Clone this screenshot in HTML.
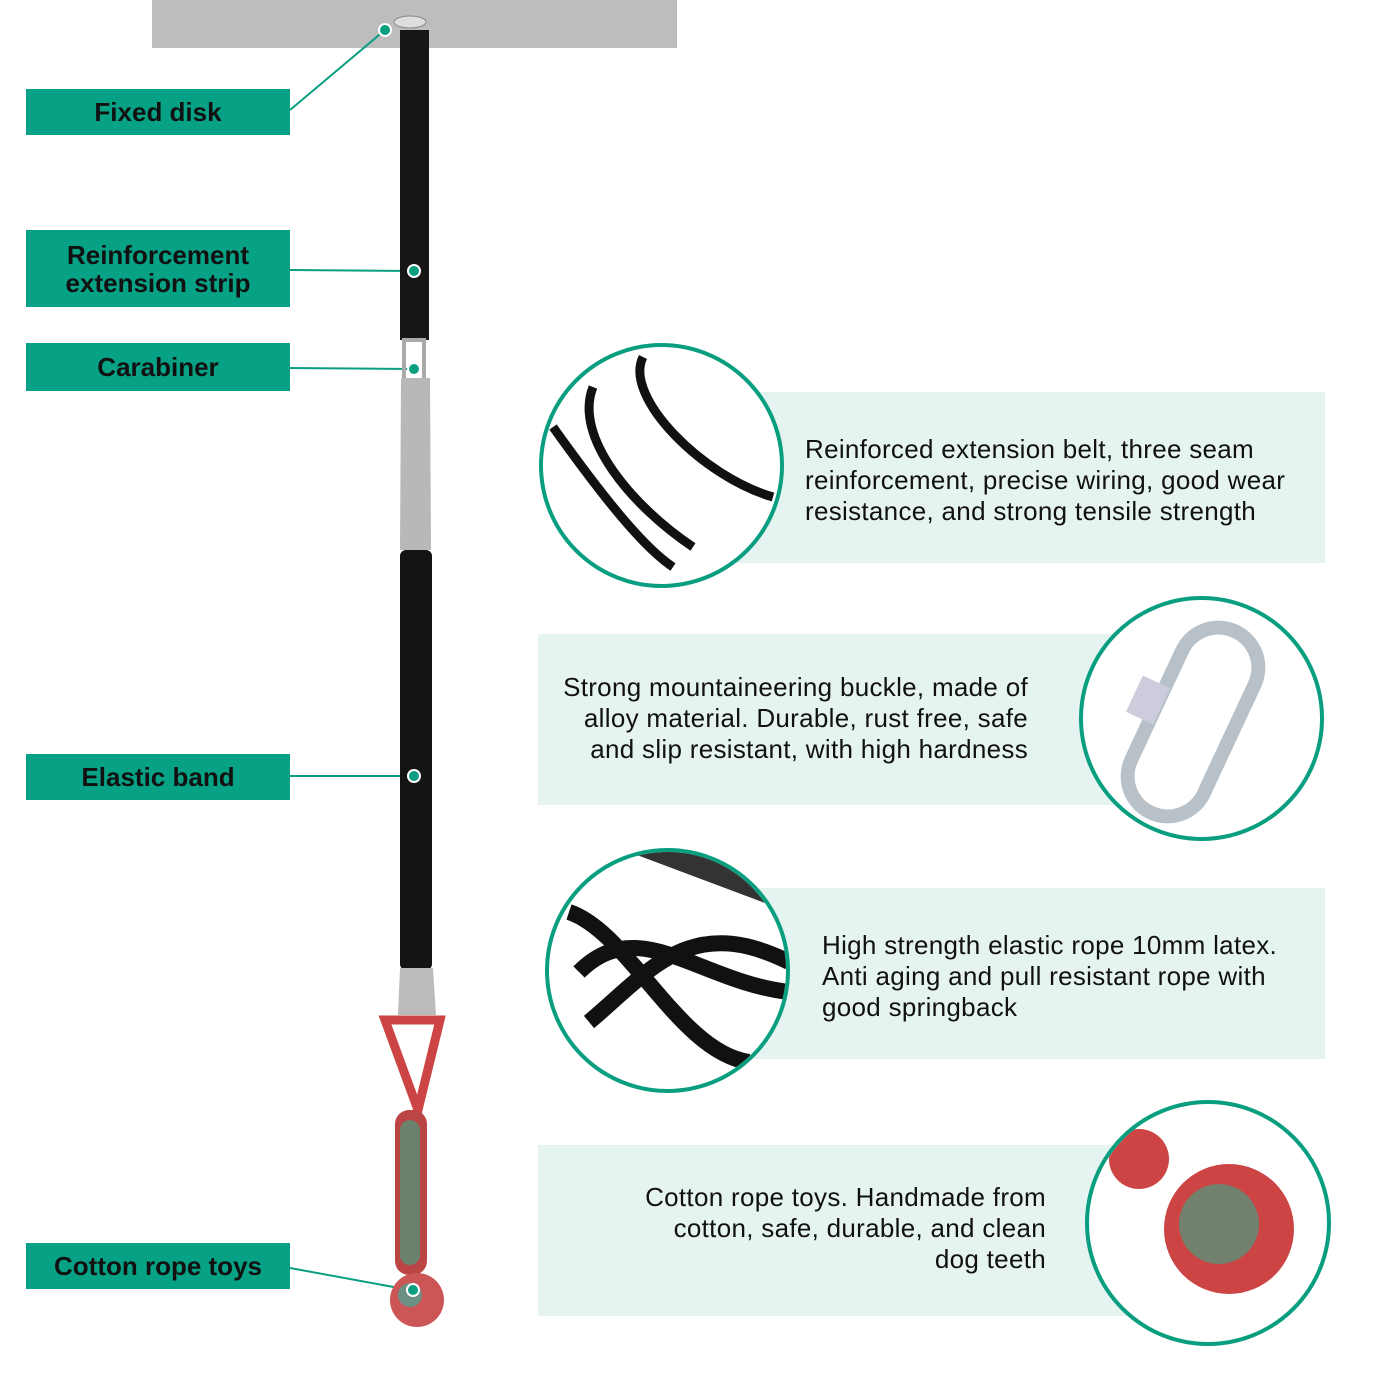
<!DOCTYPE html>
<html><head><style>
body{margin:0;width:1400px;height:1400px;background:#fff;position:relative;overflow:hidden;font-family:"Liberation Sans",Arial,sans-serif}
.lab{position:absolute;left:26px;width:264px;background:#07a285;color:#111;font-weight:bold;font-size:26px;text-align:center;display:flex;align-items:center;justify-content:center;line-height:28px}
.pan{position:absolute;background:#e6f4f1}
.txt{position:absolute;font-size:26px;letter-spacing:0.3px;line-height:31px;color:#111;white-space:nowrap}
.cir{position:absolute;border:4px solid #0a9e80;border-radius:50%;background:#fff;box-sizing:border-box;overflow:hidden}
</style></head><body>
<div style="position:absolute;left:152px;top:0;width:525px;height:48px;background:#bdbdbd"></div>
<svg style="position:absolute;left:0;top:0" width="1400" height="1400">
<line x1="290" y1="110" x2="385" y2="30" stroke="#0a9e80" stroke-width="2"/>
<line x1="290" y1="270" x2="414" y2="271" stroke="#0a9e80" stroke-width="2"/>
<line x1="290" y1="368" x2="414" y2="369" stroke="#0a9e80" stroke-width="2"/>
<line x1="290" y1="776" x2="414" y2="776" stroke="#0a9e80" stroke-width="2"/>
<line x1="290" y1="1268" x2="410" y2="1290" stroke="#0a9e80" stroke-width="2"/>
<ellipse cx="410" cy="22" rx="16" ry="6" fill="#ddd" stroke="#888"/>
<rect x="400" y="30" width="29" height="310" fill="#161616"/>
<rect x="404" y="340" width="20" height="40" fill="none" stroke="#aaa" stroke-width="4"/>
<path d="M401 378 L430 378 L431 550 L400 550 Z" fill="#b8b8b8"/>
<rect x="400" y="550" width="32" height="420" rx="6" fill="#141414"/>
<path d="M400 968 L433 968 L436 1015 L398 1015 Z" fill="#bbb"/>
<path d="M385 1020 L440 1020 L418 1110 Z" fill="none" stroke="#c44" stroke-width="9"/>
<rect x="395" y="1110" width="32" height="165" rx="14" fill="#b44"/>
<rect x="400" y="1120" width="20" height="145" rx="10" fill="#3a8" opacity=".6"/>
<circle cx="417" cy="1300" r="27" fill="#c55"/>
<circle cx="410" cy="1295" r="12" fill="#4a9" opacity=".7"/>
<g fill="#0a9e80" stroke="#fff" stroke-width="2">
<circle cx="385" cy="30" r="6"/><circle cx="414" cy="271" r="6"/><circle cx="414" cy="369" r="6"/><circle cx="414" cy="776" r="6"/><circle cx="413" cy="1290" r="6"/></g>
</svg>
<div class="lab" style="top:89px;height:46px">Fixed disk</div>
<div class="lab" style="top:230px;height:77px">Reinforcement<br>extension strip</div>
<div class="lab" style="top:343px;height:48px">Carabiner</div>
<div class="lab" style="top:754px;height:46px">Elastic band</div>
<div class="lab" style="top:1243px;height:46px">Cotton rope toys</div>

<div class="pan" style="left:700px;top:392px;width:625px;height:171px"></div>
<div class="txt" style="left:805px;top:434px">Reinforced extension belt, three seam<br>reinforcement, precise wiring, good wear<br>resistance, and strong tensile strength</div>
<div class="cir" style="left:539px;top:343px;width:245px;height:245px"><svg width="245" height="245"><g fill="none" stroke="#111" stroke-width="9"><path d="M10 80 C60 150 100 200 130 220"/><path d="M50 40 C30 90 90 160 150 200"/><path d="M100 10 C80 50 160 130 230 150"/></g></svg></div>

<div class="pan" style="left:538px;top:634px;width:640px;height:171px"></div>
<div class="txt" style="right:372px;top:672px;text-align:right">Strong mountaineering buckle, made of<br>alloy material. Durable, rust free, safe<br>and slip resistant, with high hardness</div>
<div class="cir" style="left:1079px;top:596px;width:245px;height:245px"><svg width="245" height="245"><rect x="70" y="22" width="80" height="200" rx="40" transform="rotate(25 110 122)" fill="none" stroke="#b8c0c8" stroke-width="14"/><rect x="50" y="80" width="30" height="40" fill="#ccd" transform="rotate(25 65 100)"/></svg></div>

<div class="pan" style="left:700px;top:888px;width:625px;height:171px"></div>
<div class="txt" style="left:822px;top:930px">High strength elastic rope 10mm latex.<br>Anti aging and pull resistant rope with<br>good springback</div>
<div class="cir" style="left:545px;top:848px;width:245px;height:245px"><svg width="245" height="245"><g fill="none" stroke="#111" stroke-width="16"><path d="M20 60 C80 80 130 200 200 210"/><path d="M40 170 C100 120 140 60 240 110"/><path d="M30 120 C90 60 150 130 240 140"/></g><path d="M80 0 L240 0 L240 60 Z" fill="#333"/></svg></div>

<div class="pan" style="left:538px;top:1145px;width:640px;height:171px"></div>
<div class="txt" style="right:354px;top:1182px;text-align:right">Cotton rope toys. Handmade from<br>cotton, safe, durable, and clean<br>dog teeth</div>
<div class="cir" style="left:1085px;top:1100px;width:246px;height:246px"><svg width="246" height="246"><circle cx="140" cy="125" r="65" fill="#c44"/><circle cx="130" cy="120" r="40" fill="#3a8" opacity=".6"/><circle cx="50" cy="55" r="30" fill="#c44"/></svg></div>
</body></html>
